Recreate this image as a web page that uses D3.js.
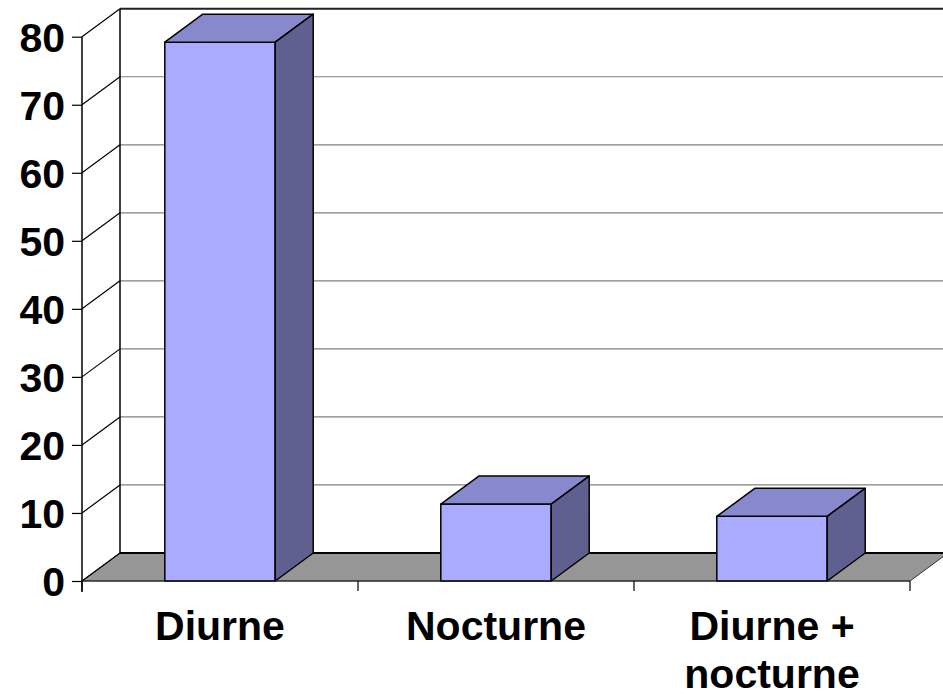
<!DOCTYPE html>
<html>
<head>
<meta charset="utf-8">
<script src="https://cdn.jsdelivr.net/npm/d3@7"></script>
<style>
  html, body { margin: 0; padding: 0; background: #ffffff; }
  svg { display: block; }
  text { font-family: "Liberation Sans", Arial, sans-serif; font-weight: bold; fill: #000; }
</style>
</head>
<body>
<svg id="chart" width="943" height="696"></svg>
<script>
// Category labels (multi-line labels split on "\n")
const categories = ["Diurne", "Nocturne", "Diurne +\nnocturne"];
// Bar values (percent)
const values = [79.2, 11.3, 9.5];
// Value axis ticks
const yTicks = [0, 10, 20, 30, 40, 50, 60, 70, 80];

const svg = d3.select("#chart");
const FONT = 41;

// Front plane of the 3D box and its depth offset
const x0 = 82, x1 = 910;
const depth = { dx: 38, dy: -28 };

const y = d3.scaleLinear().domain([0, 80]).range([581, 36.7]);
const x = d3.scaleBand().domain(categories).range([x0, x1])
  .paddingInner(0.6).paddingOuter(0.3);

const backX0 = x0 + depth.dx;
const backRight = x1 + depth.dx;

// Back wall gridlines
svg.append("g").selectAll("line").data(yTicks.filter(t => t > 0 && t < 80)).join("line")
  .attr("x1", backX0).attr("x2", backRight)
  .attr("y1", d => y(d) + depth.dy).attr("y2", d => y(d) + depth.dy)
  .attr("stroke", "#808080").attr("stroke-width", 1.2);

// Top edge of the back wall
svg.append("line")
  .attr("x1", backX0).attr("x2", backRight)
  .attr("y1", y(80) + depth.dy).attr("y2", y(80) + depth.dy)
  .attr("stroke", "#222").attr("stroke-width", 2);

// Left edge of the back wall
svg.append("line")
  .attr("x1", backX0).attr("x2", backX0)
  .attr("y1", y(80) + depth.dy).attr("y2", y(0) + depth.dy)
  .attr("stroke", "#000").attr("stroke-width", 1.5);

// Floor
const floorPts = [
  [x0, y(0)], [x1, y(0)],
  [x1 + depth.dx, y(0) + depth.dy], [backX0, y(0) + depth.dy]
];
svg.append("path")
  .attr("d", d3.line()(floorPts) + "Z")
  .attr("fill", "#969696").attr("stroke", "#333").attr("stroke-width", 1);
svg.append("line")
  .attr("x1", backX0).attr("x2", backRight)
  .attr("y1", y(0) + depth.dy).attr("y2", y(0) + depth.dy)
  .attr("stroke", "#000").attr("stroke-width", 2);

// Side wall gridlines (diagonals from the value axis to the back wall)
svg.append("g").selectAll("line").data(yTicks).join("line")
  .attr("x1", x0).attr("y1", d => y(d))
  .attr("x2", backX0).attr("y2", d => y(d) + depth.dy)
  .attr("stroke", "#000").attr("stroke-width", 1.2);

// Value axis
const yAxis = svg.append("g").attr("transform", `translate(${x0},0)`)
  .call(d3.axisLeft(y).tickValues(yTicks).tickSize(10).tickPadding(8));
yAxis.select(".domain").attr("stroke", "#000").attr("stroke-width", 1.5)
  .attr("d", `M0,${y(80)}V${y(0) + 11}`);
yAxis.selectAll(".tick line").attr("stroke", "#000").attr("stroke-width", 1.2);
yAxis.selectAll(".tick text")
  .attr("font-size", FONT).attr("font-family", '"Liberation Sans", Arial, sans-serif')
  .attr("font-weight", "bold").attr("fill", "#000")
  .attr("x", -17).attr("dy", "0.36em");

// Bars as 3D boxes
const bars = svg.append("g").selectAll("g").data(categories.map((c, i) => ({ c, v: values[i] }))).join("g");
bars.each(function(d) {
  const g = d3.select(this);
  const L = x(d.c), R = x(d.c) + x.bandwidth();
  const T = y(d.v), B = y(0);
  const { dx, dy } = depth;
  // front
  g.append("path").attr("d", d3.line()([[L, T], [R, T], [R, B], [L, B]]) + "Z")
    .attr("fill", "#AAAAFF").attr("stroke", "#000").attr("stroke-width", 1.5)
    .attr("stroke-linejoin", "round");
  // top
  g.append("path").attr("d", d3.line()([[L, T], [L + dx, T + dy], [R + dx, T + dy], [R, T]]) + "Z")
    .attr("fill", "#8888CC").attr("stroke", "#000").attr("stroke-width", 1.5)
    .attr("stroke-linejoin", "round");
  // right side
  g.append("path").attr("d", d3.line()([[R, T], [R + dx, T + dy], [R + dx, B + dy], [R, B]]) + "Z")
    .attr("fill", "#606090").attr("stroke", "#000").attr("stroke-width", 1.5)
    .attr("stroke-linejoin", "round");
});

// Category axis line and ticks at band boundaries
const step = x.step();
const boundaries = d3.range(categories.length + 1).map(i => x0 + i * step);
svg.append("line").attr("x1", x0).attr("x2", x1).attr("y1", y(0)).attr("y2", y(0))
  .attr("stroke", "#222").attr("stroke-width", 1.2);
svg.append("g").selectAll("line").data(boundaries).join("line")
  .attr("x1", d => d).attr("x2", d => d)
  .attr("y1", y(0)).attr("y2", y(0) + 10)
  .attr("stroke", "#000").attr("stroke-width", 1.2);

// Category labels
const labels = svg.append("g").selectAll("text").data(categories).join("text")
  .attr("x", d => x(d) + x.bandwidth() / 2)
  .attr("y", 640)
  .attr("text-anchor", "middle")
  .attr("font-size", FONT);
labels.each(function(d) {
  const t = d3.select(this);
  d.split("\n").forEach((line, i) => {
    t.append("tspan").attr("x", x(d) + x.bandwidth() / 2)
      .attr("dy", i === 0 ? 0 : 48).text(line);
  });
});
</script>
</body>
</html>
